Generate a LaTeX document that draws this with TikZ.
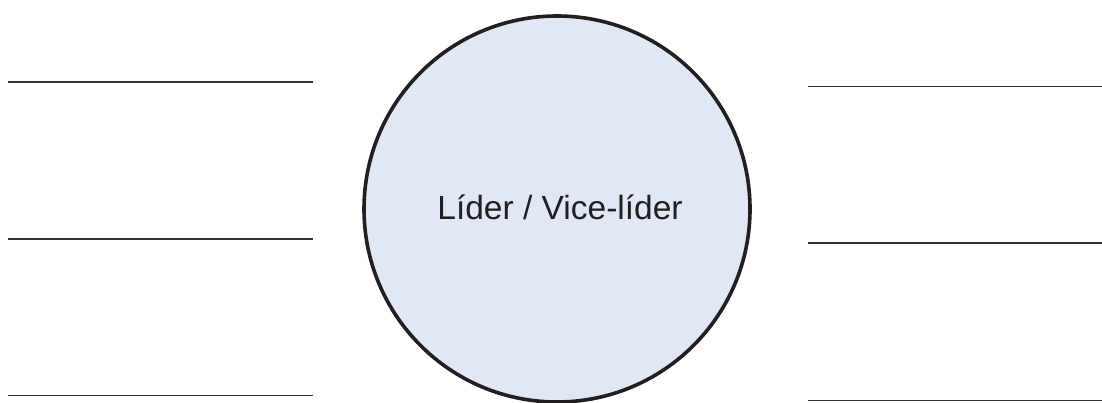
\documentclass[tikz,border=0pt]{standalone}
\usepackage{fontspec}
\setmainfont{Liberation Sans}
\definecolor{fillblue}{HTML}{E0E8F5}
\definecolor{ink}{HTML}{231F20}
\definecolor{rule}{HTML}{333333}
\begin{document}
\begin{tikzpicture}[x=1pt,y=1pt,
  hline/.style={draw=rule,line width=1.3pt}]
\useasboundingbox (0,0) rectangle (1102,402);
\begin{scope}
\clip (0,0) rectangle (1102,402);
\node[circle,draw=ink,fill=fillblue,line width=3.6pt,minimum size=386pt,inner sep=0pt] (c) at (557,193) {};
\end{scope}
\node[font=\fontsize{33.5}{38}\selectfont,text=ink] (t) at (560,195) {Líder / Vice-líder};
\coordinate (l1a) at (8,320); \coordinate (l1b) at (313,320);
\coordinate (l2a) at (8,163); \coordinate (l2b) at (313,163);
\coordinate (l3a) at (8,6.5); \coordinate (l3b) at (313,6.5);
\coordinate (r1a) at (808,315.5); \coordinate (r1b) at (1102,315.5);
\coordinate (r2a) at (808,159); \coordinate (r2b) at (1102,159);
\coordinate (r3a) at (808,1.5); \coordinate (r3b) at (1102,1.5);
\draw[hline] (l1a) -- (l1b);
\draw[hline] (l2a) -- (l2b);
\draw[hline] (l3a) -- (l3b);
\draw[hline] (r1a) -- (r1b);
\draw[hline] (r2a) -- (r2b);
\draw[hline] (r3a) -- (r3b);
\end{tikzpicture}
\end{document}
